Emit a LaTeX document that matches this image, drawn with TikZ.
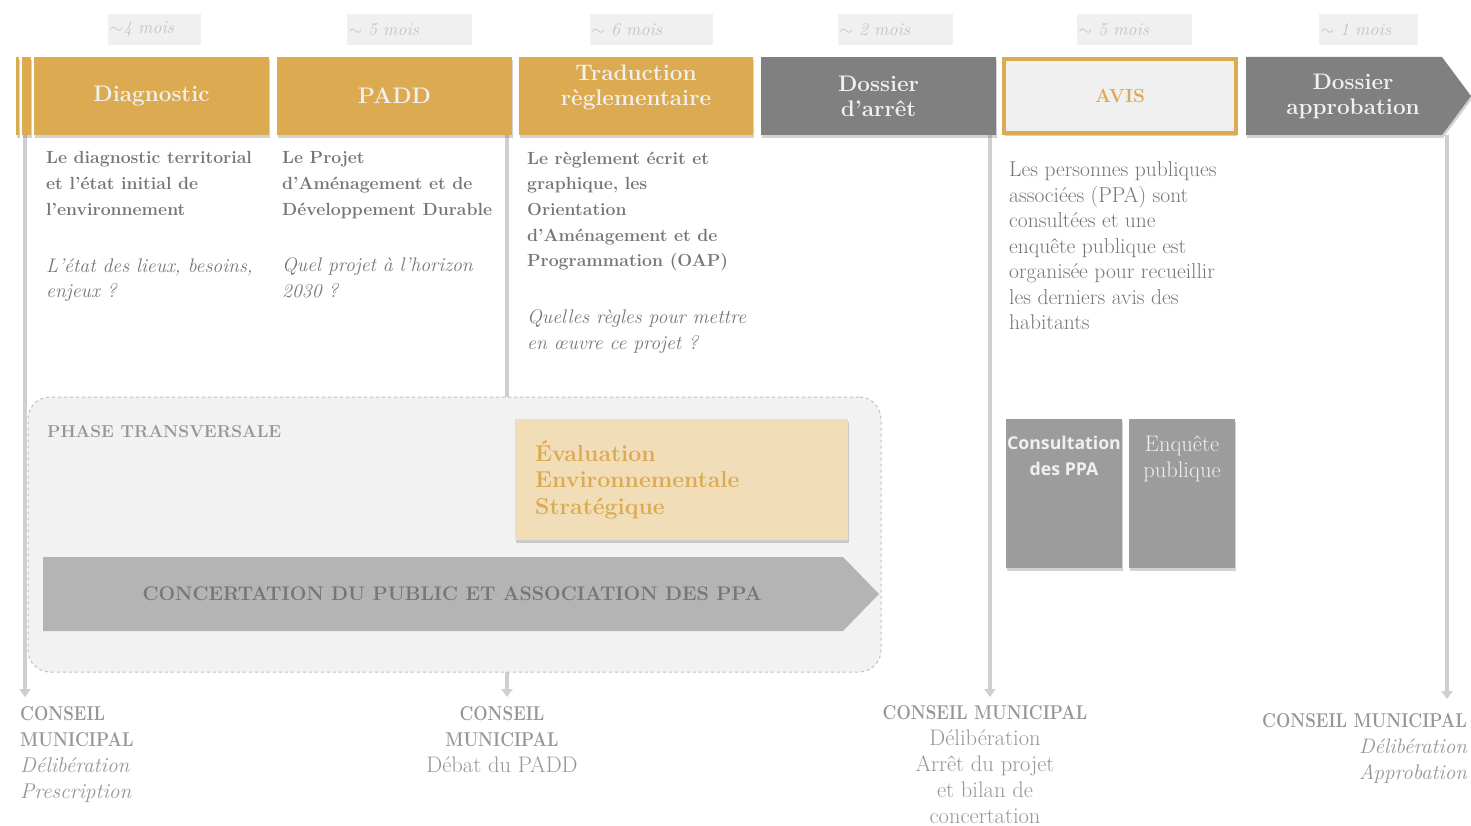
\documentclass[tikz,border=0pt]{standalone}
\usepackage{fontspec}
\newfontfamily\opensans{Open Sans}
\usetikzlibrary{arrows.meta,shadows}
\definecolor{gold}{HTML}{DCAA50}
\definecolor{dgray}{HTML}{808080}
\definecolor{txtgray}{HTML}{767676}
\definecolor{lgray}{HTML}{F0F0F0}
\definecolor{durgray}{HTML}{C4C4C4}
\definecolor{linegray}{HTML}{CFCFCF}
\definecolor{phasegray}{HTML}{F2F2F2}
\definecolor{dashgray}{HTML}{C0C0C0}
\definecolor{tan}{HTML}{F1DEB8}
\definecolor{arrowgray}{HTML}{B4B4B4}
\definecolor{boxgray}{HTML}{9C9C9C}
\definecolor{cmgray}{HTML}{969696}
\newcommand\cmb[1]{\scalebox{0.85}[1]{\bfseries\fontsize{20}{26}\selectfont #1}}
\tikzset{
  shad/.style={drop shadow={opacity=0.35,shadow xshift=1pt,shadow yshift=-3pt}},
  dur/.style={fill=lgray,text=durgray,anchor=west,minimum height=31pt,inner xsep=1.5pt,inner ysep=0pt,align=left,font=\itshape\fontsize{18}{20}\selectfont},
  hdr/.style={minimum height=78pt,inner sep=0pt,text=lgray,align=center,font=\bfseries\fontsize{22.5}{25}\selectfont},
  body/.style={anchor=north west,inner sep=0pt,align=left,text=txtgray,font=\fontsize{17.6}{25.7}\selectfont},
  timeline/.style={draw=linegray,line width=4.5pt,-{Triangle[width=11pt,length=8pt]}},
  cmtext/.style={inner sep=0pt,text=cmgray,font=\fontsize{22.5}{26}\selectfont},
  side/.style={minimum width=116pt,minimum height=149pt,fill=boxgray,inner sep=0pt,shad}
}
\newcommand\itl{\itshape\fontsize{19.7}{25.7}\selectfont}
\begin{document}
\begin{tikzpicture}[x=1pt,y=-1pt]
\useasboundingbox (0,0) rectangle (1471,826);
\fill[white] (0,0) rectangle (1471,826);
% duration labels
\node[dur,text width=90pt] (d1) at (108,29.5) {$\sim$4 mois};
\node[dur,text width=122pt] (d2) at (347,29.5) {$\sim$ 5 mois};
\node[dur,text width=120pt] (d3) at (590,29.5) {$\sim$ 6 mois};
\node[dur,text width=112pt] (d4) at (838,29.5) {$\sim$ 2 mois};
\node[dur,text width=112pt] (d5) at (1077,29.5) {$\sim$ 5 mois};
\node[dur,text width=96pt] (d6) at (1319,29.5) {$\sim$ 1 mois};
% timeline coordinates
\coordinate (t1) at (25,135); \coordinate (b1) at (25,697);
\coordinate (t2) at (507,135); \coordinate (b2) at (507,697);
\coordinate (t3) at (990,135); \coordinate (b3) at (990,697);
\coordinate (t4) at (1447,135); \coordinate (b4) at (1447,699);
\draw[timeline] (t1) -- (b1);
\draw[timeline] (t2) -- (b2);
\draw[timeline] (t3) -- (b3);
\draw[timeline] (t4) -- (b4);
% header strips
\fill[gold,shad] (16,57) rectangle (19,135);
\fill[gold,shad] (22,57) rectangle (31,135);
% headers
\node[hdr,shad,fill=gold,minimum width=235pt] (diag) at (151.5,96) {Diagnostic};
\node[hdr,shad,fill=gold,minimum width=235pt] (padd) at (394.5,96) {PADD};
\node[hdr,shad,fill=gold,minimum width=234pt] (trad) at (636,96) {};
\node[hdr] (tradt) at (636,87) {Traduction\\règlementaire};
\node[hdr,shad,fill=dgray,minimum width=235pt] (arret) at (878.5,96) {Dossier\\d’arrêt};
\node[hdr,shad,fill=lgray,draw=gold,line width=4pt,text=gold,minimum width=232pt,minimum height=74pt,font=\bfseries\fontsize{19}{25}\selectfont] (avis) at (1120,96) {AVIS};
\fill[dgray,shad] (1246,57) -- (1442,57) -- (1471,96) -- (1442,135) -- (1246,135) -- cycle;
\node[hdr,minimum height=0pt] (appro) at (1353,96) {Dossier\\approbation};
% body texts
\node[body] (c1) at (46,151.5) {\bfseries Le diagnostic territorial\\\bfseries et l’état initial de\\\bfseries l’environnement\\[31pt]\itl L’état des lieux, besoins,\\\itl enjeux ?};
\node[body] (c2) at (282,151.5) {\bfseries Le Projet\\\bfseries d’Aménagement et de\\\bfseries Développement Durable\\[31pt]\itl Quel projet à l’horizon\\\itl 2030 ?};
\node[body] (c3) at (527,151.5) {\bfseries Le règlement écrit et\\\bfseries graphique, les\\\bfseries Orientation\\\bfseries d’Aménagement et de\\\bfseries Programmation (OAP)\\[31pt]\itl Quelles règles pour mettre\\\itl en œuvre ce projet ?};
\node[body,font=\fontsize{21.5}{25.5}\selectfont] (c5) at (1009,161.5) {Les personnes publiques\\associées (PPA) sont\\consultées et une\\enquête publique est\\organisée pour recueillir\\les derniers avis des\\habitants};
% phase transversale
\node[draw=dashgray,dashed,line width=1pt,fill=phasegray,rounded corners=22pt,minimum width=853pt,minimum height=275pt,inner sep=0pt] (phase) at (454.5,534.5) {};
\node[anchor=west,inner sep=0pt,text=cmgray,font=\bfseries\fontsize{17.3}{20}\selectfont] (ptitle) at (47,432) {PHASE TRANSVERSALE};
\node[fill=tan,minimum width=333pt,minimum height=121pt,inner sep=0pt,shad] (ess) at (681.5,479.5) {};
\node[anchor=north west,inner sep=0pt,align=left,text=gold,font=\bfseries\fontsize{23}{26.5}\selectfont] (esst) at (535,440) {Évaluation\\Environnementale\\Stratégique};
\fill[arrowgray] (43,557) -- (843,557) -- (879,594) -- (843,631) -- (43,631) -- cycle;
\node[inner sep=0pt,text=txtgray,font=\bfseries\fontsize{19.7}{22}\selectfont] (conc) at (452,594) {CONCERTATION DU PUBLIC ET ASSOCIATION DES PPA};
% side boxes
\node[side] (cons) at (1064,493.5) {};
\node[anchor=north,inner sep=0pt,align=center,text=lgray,font=\opensans\bfseries\fontsize{17.7}{26}\selectfont] (const) at (cons.north) [yshift=-17pt] {Consultation\\des PPA};
\node[side,minimum width=106pt] (enq) at (1182,493.5) {};
\node[anchor=north,inner sep=0pt,align=center,text=lgray,font=\fontsize{22.5}{26}\selectfont] (enqt) at (enq.north) [yshift=-16.5pt] {Enquête\\publique};
% conseil municipal
\node[cmtext,anchor=north west,align=left] (cm1) at (20,706.5) {\cmb{CONSEIL}\\\cmb{MUNICIPAL}\\\itshape\fontsize{21.3}{26}\selectfont Délibération\\\itshape\fontsize{21.3}{26}\selectfont Prescription};
\node[cmtext,anchor=north,align=center] (cm2) at (502,706.5) {\cmb{CONSEIL}\\\cmb{MUNICIPAL}\\Débat du PADD};
\node[cmtext,anchor=north,align=center] (cm3) at (985,705) {\cmb{CONSEIL MUNICIPAL}\\Délibération\\Arrêt du projet\\et bilan de\\concertation};
\node[cmtext,anchor=north east,align=right] (cm4) at (1467,713.5) {\cmb{CONSEIL MUNICIPAL}\\\itshape\fontsize{21}{26}\selectfont Délibération\\\itshape\fontsize{21}{26}\selectfont Approbation};
\end{tikzpicture}
\end{document}
